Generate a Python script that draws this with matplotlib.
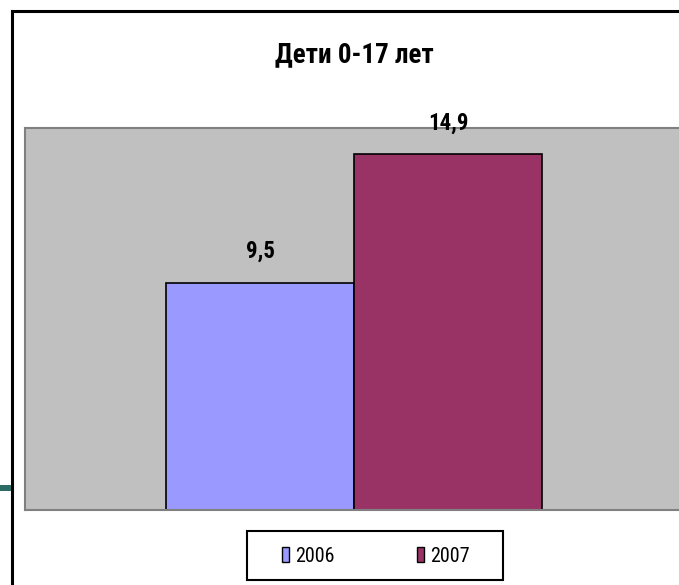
import matplotlib
matplotlib.use("Agg")
import matplotlib.pyplot as plt
from matplotlib.patches import Rectangle

title = "Дети 0-17 лет"
series = ["2006", "2007"]
values = [9.5, 14.9]
labels = ["9,5", "14,9"]
colors = ["#9999FF", "#993366"]

plt.rcParams['font.family'] = ['Roboto Condensed', 'DejaVu Sans']

W, H = 679, 585
fig = plt.figure(figsize=(W / 100, H / 100), dpi=100)

def fx(px):
    return px / W

def fy(py):
    return 1 - py / H

# outer frame
fig.patches.append(Rectangle((fx(12), fy(700)), fx(700), fy(11) - fy(700), transform=fig.transFigure,
                             fill=False, edgecolor="black", linewidth=2.2, zorder=0))
# small teal decoration at left
fig.patches.append(Rectangle((fx(0), fy(491)), fx(11), fy(485) - fy(491), transform=fig.transFigure,
                             facecolor="#2F6B66", edgecolor="none", zorder=1))

ax = fig.add_axes([fx(25), fy(510), fx(683) - fx(25), fy(128) - fy(510)])
ax.set_facecolor("#C0C0C0")
xs = list(range(len(values)))
bars = ax.bar(xs, values, width=1.0, color=colors, edgecolor="black", linewidth=1.2, label=series)
ax.set_xlim(-1.25, 2.25)
ax.set_ylim(0, 16)
ax.set_xticks([])
ax.set_yticks([])
for s in ax.spines.values():
    s.set_color("#808080")
    s.set_linewidth(1.5)

for b, lab in zip(bars, labels):
    ax.annotate(lab, (b.get_x() + b.get_width() / 2, b.get_height()), xytext=(0, 25),
                textcoords="offset pixels", ha="center", va="baseline",
                fontsize=16.5, fontweight="bold", annotation_clip=False)

fig.text(fx(354), fy(55), title, ha="center", va="center", fontsize=19.5, fontweight="bold")

# legend
fig.patches.append(Rectangle((fx(247), fy(580)), fx(503) - fx(247), fy(531) - fy(580),
                             transform=fig.transFigure, fill=False, edgecolor="black", linewidth=1.5))
handles = [Rectangle((0, 0), 1, 1, facecolor=c, edgecolor="black", linewidth=1.0) for c in colors]
fig.legend(handles, series, loc="center", bbox_to_anchor=(fx(376), fy(556)), ncol=2, frameon=False,
           fontsize=14.5, handlelength=0.35, handleheight=0.7, handletextpad=0.3, columnspacing=4.1,
           borderpad=0)

fig.savefig("out.png", dpi=100)
